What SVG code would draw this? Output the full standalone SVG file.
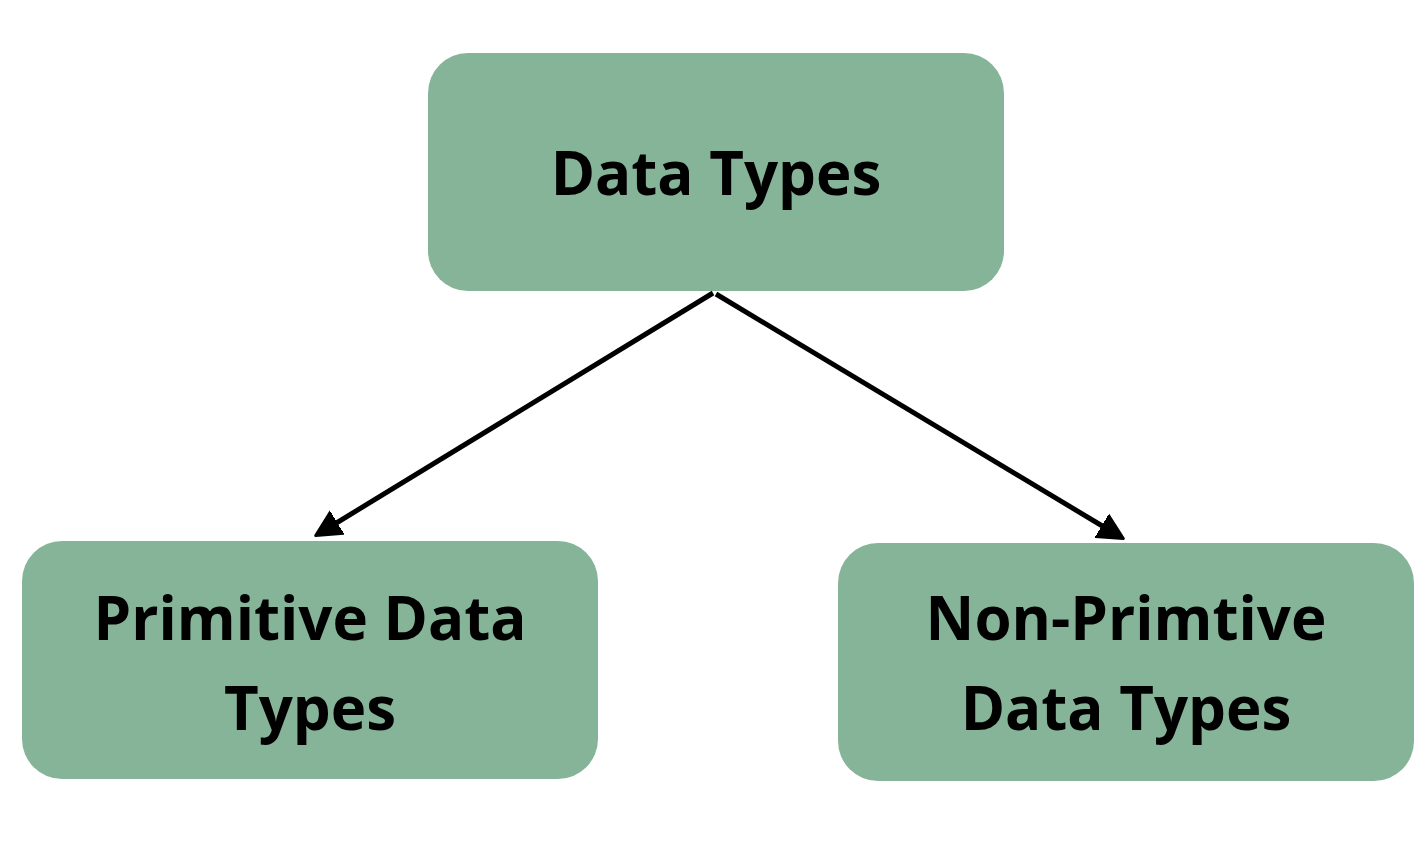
<svg xmlns="http://www.w3.org/2000/svg" width="1426" height="845" viewBox="0 0 1426 845">
<style>
.box{fill:#86b499}
.t{font-family:"Open Sans","Liberation Sans",sans-serif;font-weight:bold;font-size:60px;fill:#000;text-anchor:middle}
.c{stroke:#000;stroke-width:5;fill:none;marker-end:url(#a)}
</style>
<defs><marker id="a" markerWidth="6" markerHeight="6" refX="4" refY="3" orient="auto" markerUnits="strokeWidth"><path d="M0,0.5 L5,3 L0,5.5 Z" fill="#000" stroke="#000" stroke-width="0.6" stroke-linejoin="round"/></marker></defs>
<rect width="1426" height="845" fill="#fff"/>
<g id="n1"><rect class="box" x="428" y="53" width="576" height="238" rx="40"/><text class="t" x="716" y="195">Data Types</text></g>
<g id="n2"><rect class="box" x="22" y="541" width="576" height="238" rx="40"/><text class="t" x="310" y="640">Primitive Data</text><text class="t" x="310" y="730">Types</text></g>
<g id="n3"><rect class="box" x="838" y="543" width="576" height="238" rx="40"/><text class="t" x="1126" y="640">Non-Primtive</text><text class="t" x="1126" y="730">Data Types</text></g>
<g id="connectors">
<line class="c" x1="713" y1="293" x2="320" y2="533"/>
<line class="c" x1="716" y1="294" x2="1119" y2="536"/>
</g>
</svg>
